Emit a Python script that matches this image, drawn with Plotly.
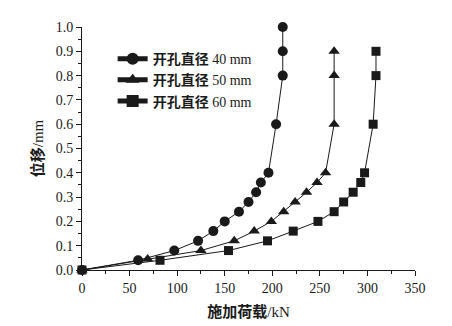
import plotly.graph_objects as go

load_40 = [0, 59, 97, 122, 138, 150, 165, 175, 183, 188, 196, 204, 211, 211, 211]
disp_40 = [0, 0.04, 0.08, 0.12, 0.16, 0.20, 0.24, 0.28, 0.32, 0.36, 0.40, 0.60, 0.80, 0.90, 1.00]

load_50 = [0, 69, 125, 160, 181, 199, 212, 224, 236, 247, 256, 265, 265, 265]
disp_50 = [0, 0.045, 0.08, 0.12, 0.16, 0.20, 0.24, 0.28, 0.32, 0.36, 0.40, 0.60, 0.80, 0.90]

load_60 = [0, 82, 154, 195, 222, 248, 265, 275, 285, 293, 297, 306, 309, 309]
disp_60 = [0, 0.04, 0.08, 0.12, 0.16, 0.20, 0.24, 0.28, 0.32, 0.36, 0.40, 0.60, 0.80, 0.90]

series_names = ["<b>开孔直径</b> 40 mm", "<b>开孔直径</b> 50 mm", "<b>开孔直径</b> 60 mm"]
symbols = ["circle", "triangle-up", "square"]

x_ticks = [0, 50, 100, 150, 200, 250, 300, 350]
y_ticks = [0.0, 0.1, 0.2, 0.3, 0.4, 0.5, 0.6, 0.7, 0.8, 0.9, 1.0]

FONT = "Liberation Serif, Times New Roman, Noto Sans CJK SC, serif"
INK = "#1a1a1a"

fig = go.Figure()
for xs, ys, name, sym in zip([load_40, load_50, load_60], [disp_40, disp_50, disp_60], series_names, symbols):
    fig.add_trace(go.Scatter(
        x=xs, y=ys, name=name, mode="lines+markers",
        line=dict(color=INK, width=1),
        marker=dict(symbol=sym, size=10 if sym != "square" else 9, color=INK),
        cliponaxis=False,
    ))

fig.update_layout(
    width=444, height=318,
    margin=dict(l=74, r=37, t=19, b=56, autoexpand=False),
    paper_bgcolor="white", plot_bgcolor="white",
    font=dict(family=FONT, size=14, color=INK),
    showlegend=True,
    legend=dict(x=0.092, y=0.934, xanchor="left", yanchor="top",
                bgcolor="rgba(0,0,0,0)", font=dict(size=14, family=FONT),
                tracegroupgap=0, itemsizing="constant"),
)
fig.update_xaxes(
    range=[0, 350], tickvals=x_ticks, ticktext=[str(v) for v in x_ticks],
    showline=True, linecolor=INK, linewidth=1, mirror=False,
    ticks="outside", ticklen=5, tickcolor=INK, showgrid=False, zeroline=False,
    minor=dict(ticks="outside", ticklen=3, dtick=25, tickcolor=INK, showgrid=False),
    tickfont=dict(size=14, family=FONT), automargin=False,
    title=dict(text="<b>施加荷载</b>/kN", font=dict(size=15, family=FONT), standoff=11),
)
fig.update_yaxes(
    range=[0, 1.0], tickvals=y_ticks, ticktext=[f"{v:.1f}" for v in y_ticks],
    showline=True, linecolor=INK, linewidth=1, mirror=False,
    ticks="outside", ticklen=5, tickcolor=INK, showgrid=False, zeroline=False,
    minor=dict(ticks="outside", ticklen=3, dtick=0.05, tickcolor=INK, showgrid=False),
    tickfont=dict(size=14, family=FONT), automargin=False,
    title=dict(text="<b>位移</b>/mm", font=dict(size=15, family=FONT), standoff=8),
)

fig.write_html("out.html")
